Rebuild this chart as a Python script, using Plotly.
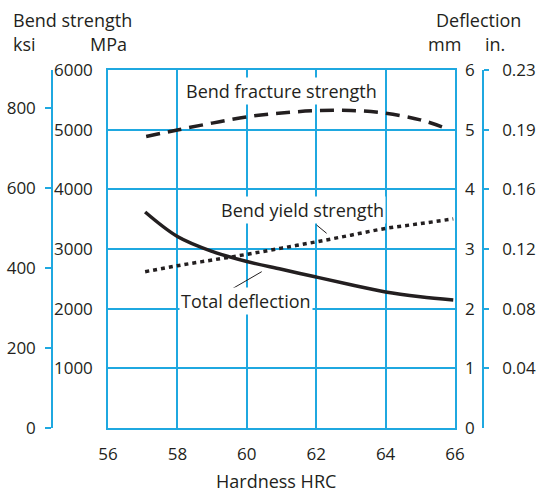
import plotly.graph_objects as go

# ---- data ----
hrc_fracture = [57.1, 58, 59, 60, 61, 62, 63, 64, 65, 65.8]
fracture_mpa = [4885, 4995, 5110, 5215, 5280, 5318, 5322, 5275, 5165, 5010]

hrc_yield = [57.07, 58, 59, 60, 61, 62, 63, 64, 65, 65.95]
yield_mpa = [2620, 2720, 2815, 2910, 3015, 3120, 3232, 3345, 3425, 3505]

hrc_defl = [57.07, 58, 59, 60, 61, 62, 63, 64, 65, 65.95]
defl_mm = [3.62, 3.21, 2.96, 2.79, 2.66, 2.53, 2.40, 2.28, 2.20, 2.145]

x_ticks = [56, 58, 60, 62, 64, 66]
mpa_ticks = [1000, 2000, 3000, 4000, 5000, 6000]
ksi_ticks = [0, 200, 400, 600, 800]
mm_ticks = [0, 1, 2, 3, 4, 5, 6]
# inch ticks sit at the 1..6 mm marks (1 mm = 0.03937 in)
in_ticks = [0.03937, 0.07874, 0.11811, 0.15748, 0.19685, 0.23622]
in_labels = ["0.04", "0.08", "0.12", "0.16", "0.19", "0.23"]

# ---- style ----
W, H = 537, 493
PL, PR, PT, PB = 108, 455, 70, 428
ML, MR = 2, 2
MT, MB = PT, H - PB
PW = W - ML - MR
PH = H - MT - MB
CYAN = "#1fa8e0"
TXT = "#231f20"
FONT = "Open Sans"
FS = 17
FS_T = 18


def px(x):
    return (x - ML) / PW


def py(y):
    return (PB - y) / PH


fig = go.Figure()
fig.add_trace(go.Scatter(x=hrc_fracture, y=fracture_mpa, mode="lines",
                         line=dict(color=TXT, width=3.5, dash="14px,8px", shape="spline"),
                         name="Bend fracture strength", yaxis="y", showlegend=False))
fig.add_trace(go.Scatter(x=hrc_yield, y=yield_mpa, mode="lines",
                         line=dict(color=TXT, width=3.5, dash="4px,4px", shape="spline"),
                         name="Bend yield strength", yaxis="y", showlegend=False))
fig.add_trace(go.Scatter(x=hrc_defl, y=defl_mm, mode="lines",
                         line=dict(color=TXT, width=3.5, shape="spline"),
                         name="Total deflection", yaxis="y3", showlegend=False))
# invisible traces to bind the secondary scales
fig.add_trace(go.Scatter(x=[56], y=[0], mode="markers", marker=dict(opacity=0),
                         yaxis="y2", showlegend=False, hoverinfo="skip"))
fig.add_trace(go.Scatter(x=[56], y=[0], mode="markers", marker=dict(opacity=0),
                         yaxis="y4", showlegend=False, hoverinfo="skip"))

dom = [px(PL), px(PR)]

fig.update_layout(
    width=W, height=H,
    margin=dict(l=ML, r=MR, t=MT, b=MB, autoexpand=False),
    paper_bgcolor="white", plot_bgcolor="white",
    font=dict(family=FONT, size=FS, color=TXT),
    xaxis=dict(domain=dom, range=[56, 66], tickvals=x_ticks, showgrid=True,
               gridcolor=CYAN, gridwidth=1.5, showline=True, linecolor=CYAN,
               linewidth=1.5, mirror=True, ticks="", ticklabelstandoff=10,
               zeroline=False, automargin=False),
    yaxis=dict(range=[0, 6000], tickvals=mpa_ticks, showgrid=True, gridcolor=CYAN,
               gridwidth=1.5, showline=True, linecolor=CYAN, linewidth=1.5,
               mirror=True, ticks="", ticklabelstandoff=10, zeroline=False,
               automargin=False),
    yaxis2=dict(overlaying="y", anchor="free", position=px(52), side="left",
                range=[0, 895], tickvals=ksi_ticks, showgrid=False,
                showline=True, linecolor=CYAN, linewidth=1.5, ticks="outside",
                ticklen=6, tickcolor=CYAN, tickwidth=1.5, ticklabelstandoff=6,
                zeroline=False, automargin=False),
    yaxis3=dict(overlaying="y", anchor="x", side="right", range=[0, 6],
                tickvals=mm_ticks, showgrid=False, showline=False, ticks="",
                ticklabelstandoff=9, zeroline=False, automargin=False),
    yaxis4=dict(overlaying="y", anchor="free", position=px(483), side="right",
                range=[0, 6 / 25.4], tickvals=in_ticks, ticktext=in_labels,
                showgrid=False, showline=True, linecolor=CYAN, linewidth=1.5,
                ticks="outside", ticklen=5, tickcolor=CYAN, tickwidth=1.5,
                ticklabelstandoff=10, zeroline=False, automargin=False),
)

annots = [
    dict(text="Bend strength", x=px(11), y=py(20), xanchor="left"),
    dict(text="ksi", x=px(11), y=py(44), xanchor="left"),
    dict(text="MPa", x=px(129), y=py(44), xanchor="right"),
    dict(text="Deflection", x=px(523), y=py(20), xanchor="right"),
    dict(text="mm", x=px(463), y=py(44), xanchor="right"),
    dict(text="in.", x=px(483), y=py(44), xanchor="left"),
    dict(text="Hardness HRC", x=px(276), y=py(481), xanchor="center"),
]
for a in annots:
    fig.add_annotation(xref="paper", yref="paper", showarrow=False,
                       yanchor="middle", font=dict(size=FS_T, color=TXT, family=FONT), **a)

labels = [
    dict(text="Bend fracture strength", x=61.01, y=5648),
    dict(text="Bend yield strength", x=61.6, y=3650),
    dict(text="Total deflection", x=59.98, y=2125),
]
for a in labels:
    fig.add_annotation(xref="x", yref="y", showarrow=False, bgcolor="white",
                       borderpad=1, font=dict(size=FS_T, color=TXT, family=FONT), **a)

# leader lines
fig.add_shape(type="line", xref="x", yref="y", x0=62.01, y0=3402, x1=62.3, y1=3263,
              line=dict(color=TXT, width=1))
fig.add_shape(type="line", xref="x", yref="y", x0=59.52, y0=2313, x1=60.43, y1=2620,
              line=dict(color=TXT, width=1))

fig.write_html("out.html",
               config={"displayModeBar": False},
               post_script="document.body.style.margin='0';"
                           "document.body.style.overflow='hidden';")
